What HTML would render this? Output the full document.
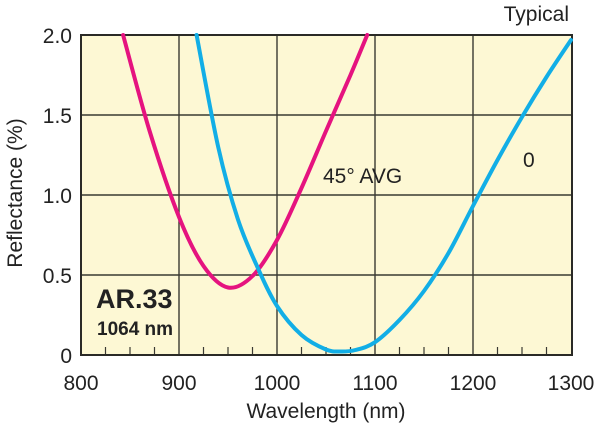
<!DOCTYPE html>
<html><head><style>body{margin:0;background:#fff}svg{display:block;font-family:"Liberation Sans",sans-serif}</style></head><body>
<svg width="600" height="428" viewBox="0 0 600 428">
<rect x="81" y="35" width="491" height="320" fill="#fdf8d4"/>
<g stroke="#3a3a32" stroke-width="1.4">
<line x1="179" y1="35" x2="179" y2="355"/><line x1="277" y1="35" x2="277" y2="355"/><line x1="375" y1="35" x2="375" y2="355"/><line x1="473" y1="35" x2="473" y2="355"/>
<line x1="81" y1="115" x2="572" y2="115"/><line x1="81" y1="195" x2="572" y2="195"/><line x1="81" y1="275" x2="572" y2="275"/>
<g stroke-width="1.2">
<line x1="105.5" y1="347" x2="105.5" y2="355"/><line x1="130" y1="347" x2="130" y2="355"/><line x1="154.5" y1="347" x2="154.5" y2="355"/>
<line x1="203.5" y1="347" x2="203.5" y2="355"/><line x1="228" y1="347" x2="228" y2="355"/><line x1="252.5" y1="347" x2="252.5" y2="355"/>
<line x1="301.5" y1="347" x2="301.5" y2="355"/><line x1="326" y1="347" x2="326" y2="355"/><line x1="350.5" y1="347" x2="350.5" y2="355"/>
<line x1="399.5" y1="347" x2="399.5" y2="355"/><line x1="424" y1="347" x2="424" y2="355"/><line x1="448.5" y1="347" x2="448.5" y2="355"/>
<line x1="497.5" y1="347" x2="497.5" y2="355"/><line x1="522" y1="347" x2="522" y2="355"/><line x1="546.5" y1="347" x2="546.5" y2="355"/>
</g></g>
<rect x="81" y="35" width="491" height="320" fill="none" stroke="#2a2a26" stroke-width="2"/>
<g fill="none" stroke-width="4" stroke-linecap="round">
<path id="pk" stroke="#e5137f" d=""/>
<path id="bl" stroke="#12aee6" d=""/>
</g>
<g fill="#222" font-size="21">
<text x="569" y="21" text-anchor="end">Typical</text>
<g text-anchor="end"><text x="72" y="43">2.0</text><text x="72" y="123">1.5</text><text x="72" y="203">1.0</text><text x="72" y="283">0.5</text><text x="72" y="363">0</text></g>
<g text-anchor="middle"><text x="81" y="390">800</text><text x="179" y="390">900</text><text x="277" y="390">1000</text><text x="375" y="390">1100</text><text x="473" y="390">1200</text><text x="571" y="390">1300</text></g>
<text x="326" y="418" text-anchor="middle">Wavelength (nm)</text>
<text transform="translate(22,193) rotate(-90)" text-anchor="middle">Reflectance (%)</text>
<text x="323" y="183">45° AVG</text>
<text x="523" y="167">0</text>
<text x="96" y="308" font-weight="bold" font-size="27">AR.33</text>
<text x="97" y="335" font-weight="bold" font-size="19">1064 nm</text>
</g>
</svg>
<script>
function cr(p){var d="M"+p[0][0]+","+p[0][1];for(var i=0;i<p.length-1;i++){var p0=p[i-1]||p[i],p1=p[i],p2=p[i+1],p3=p[i+2]||p2;
d+=" C"+(p1[0]+(p2[0]-p0[0])/6)+","+(p1[1]+(p2[1]-p0[1])/6)+" "+(p2[0]-(p3[0]-p1[0])/6)+","+(p2[1]-(p3[1]-p1[1])/6)+" "+p2[0]+","+p2[1];}return d;}
document.getElementById("pk").setAttribute("d",cr([[123.1,35],[149.6,131],[179,217],[203.5,266],[228,287.5],[252.5,276],[277,240],[301.5,188],[326,131],[350.5,75],[367.2,35]]));
document.getElementById("bl").setAttribute("d",cr([[196.6,35],[218.2,147],[237.8,219],[257.4,267],[277,306],[301.5,335],[326,349.5],[340.7,351.5],[355.4,350],[375,342.2],[399.5,320],[424,291],[448.5,253],[473,206],[497.5,160],[522,117],[546.5,77],[571,40]]));
</script>
</body></html>
